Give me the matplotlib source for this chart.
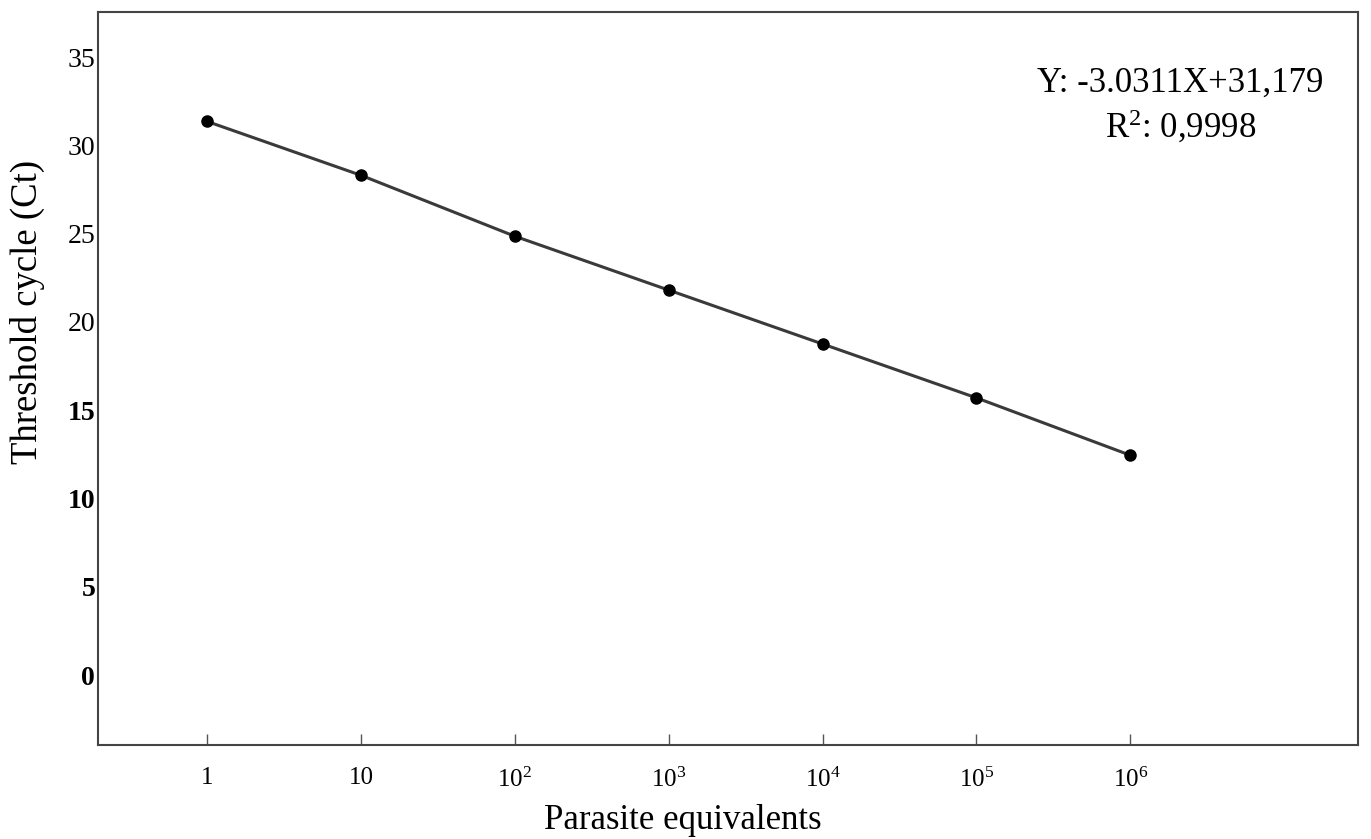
import numpy as np
import matplotlib
matplotlib.use("Agg")
import matplotlib.pyplot as plt

plt.rcParams["font.family"] = ["Liberation Serif", "DejaVu Serif"]
plt.rcParams["mathtext.fontset"] = "custom"
plt.rcParams["mathtext.rm"] = "Liberation Serif"
plt.rcParams["mathtext.it"] = "Liberation Serif:italic"
plt.rcParams["mathtext.bf"] = "Liberation Serif:bold"

# data
log_conc = [0, 1, 2, 3, 4, 5, 6]
ct_values = [31.35, 28.3, 24.85, 21.8, 18.75, 15.7, 12.45]
x_tick_labels = ["1", "10", r"$\mathrm{10^{2}}$", r"$\mathrm{10^{3}}$",
                 r"$\mathrm{10^{4}}$", r"$\mathrm{10^{5}}$", r"$\mathrm{10^{6}}$"]
y_ticks = [0, 5, 10, 15, 20, 25, 30, 35]

fig = plt.figure(figsize=(13.71, 8.39), dpi=100)
ax = fig.add_axes([0.0715, 0.112, 0.919, 0.8737])

ax.plot(log_conc, ct_values, color="#3a3a3a", lw=2.2, zorder=2)
ax.plot(log_conc, ct_values, "o", color="black", ms=8, zorder=3)

ax.set_xlim(-0.71, 7.48)
ax.set_ylim(-3.96, 37.55)

ax.set_xticks(log_conc)
ax.set_xticklabels(x_tick_labels, fontsize=18)
ax.tick_params(axis="x", direction="in", length=8, width=1, color="#555555", pad=16)

ax.set_yticks(y_ticks)
ax.set_yticklabels([str(v) for v in y_ticks], fontsize=20)
ax.tick_params(axis="y", length=0, pad=2)
for lab in ax.get_yticklabels():
    if lab.get_text() in ("0", "5", "10", "15"):
        lab.set_fontweight("bold")

for s in ax.spines.values():
    s.set_color("#444444")
    s.set_linewidth(1.5)

ax.set_xlabel("Parasite equivalents", fontsize=25)
ax.set_ylabel("Threshold cycle (Ct)", fontsize=26.5)
ax.xaxis.set_label_coords(0.464, -0.08)
ax.yaxis.set_label_coords(-0.042, 0.591)

ax.text(0.859, 0.872, "Y: -3.0311X+31,179\nR$^{2}$: 0,9998", fontsize=25,
        ha="center", va="center", linespacing=1.3, transform=ax.transAxes)

fig.savefig("out.png", dpi=100)
